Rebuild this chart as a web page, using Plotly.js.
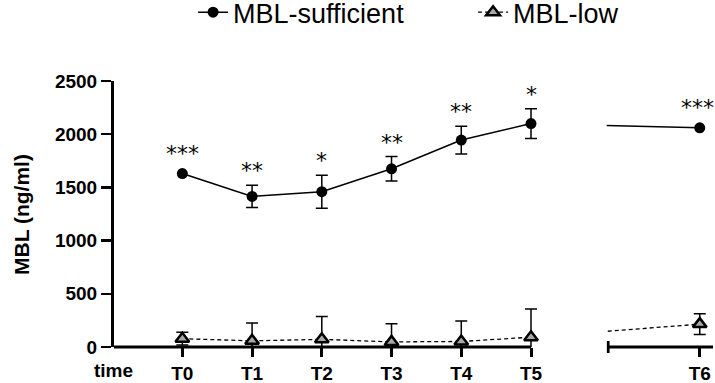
<!DOCTYPE html>
<html><head><meta charset="utf-8">
<script src="https://cdn.plot.ly/plotly-3.0.1.min.js"></script>
<style>html,body{margin:0;padding:0;background:#fff;} #chart{width:715px;height:383px;}</style>
</head><body><div id="chart"></div>
<script>
// ---- data ----
const timePoints = ['T0','T1','T2','T3','T4','T5','T6'];
const mblSufficient = [1630, 1415, 1460, 1675, 1945, 2100, 2060];
const mblSufficientErr = [null, 105, 155, 115, 130, 140, null];
const mblLow = [78, 58, 72, 48, 52, 92, 215];
const mblLowErr = [60, 168, 215, 170, 192, 265, 97];
const significance = ['***','**','*','**','**','*','***'];
const yTicks = [0, 500, 1000, 1500, 2000, 2500];

// ---- layout helpers: T0..T5 evenly spaced, T6 after an axis break ----
const BREAK_GAP = 2.42;
const xPos = timePoints.map((t, i) => i <= 5 ? i : 5 + BREAK_GAP * (i - 5));
const nanify = a => a.map(v => v == null ? NaN : v);
const X_MIN = -0.98, SPAN = 8.59;
const dom1 = [0, 0.72], dom2 = [0.8225, 1];
const range1 = dom1.map(d => X_MIN + d * SPAN);
const range2 = dom2.map(d => X_MIN + d * SPAN);

const FONT = 'Liberation Sans, Arial, sans-serif';
const errStyle = {type: 'data', visible: true, color: '#000', thickness: 1.5, width: 6};

function suffTrace(idx, axis, legend) {
  return {
    x: idx.map(i => xPos[i]), y: idx.map(i => mblSufficient[i]),
    xaxis: axis, yaxis: 'y', type: 'scatter', mode: 'lines+markers',
    name: 'MBL-sufficient', showlegend: legend, legendgroup: 's',
    line: {color: '#000', width: 1.5},
    marker: {symbol: 'circle', size: 11, color: '#000'},
    error_y: Object.assign({array: nanify(idx.map(i => mblSufficientErr[i]))}, errStyle),
    hoverinfo: 'skip'
  };
}
function lowTrace(idx, axis, legend) {
  return {
    x: idx.map(i => xPos[i]), y: idx.map(i => mblLow[i]),
    xaxis: axis, yaxis: 'y', type: 'scatter', mode: 'lines+markers',
    name: 'MBL-low', showlegend: legend, legendgroup: 'l',
    line: {color: '#000', width: 1.3, dash: '4px,3px'},
    marker: {symbol: 'triangle-up', size: 12, color: '#a8a8a8', line: {color: '#000', width: 2.5}},
    error_y: Object.assign({array: nanify(idx.map(i => mblLowErr[i]))}, errStyle),
    hoverinfo: 'skip'
  };
}
const first = [0,1,2,3,4,5], second = [5,6];
const traces = [
  suffTrace(first, 'x', true),
  lowTrace(first, 'x', true),
  suffTrace(second, 'x2', false),
  lowTrace(second, 'x2', false)
];

const tickFont = {family: FONT, size: 19, weight: 'bold', color: '#000'};
const xCommon = {
  showline: false, zeroline: false, showgrid: false,
  ticks: 'outside', ticklen: 9, tickwidth: 3, tickcolor: '#000',
  tickfont: tickFont, anchor: 'y', fixedrange: true
};

const annotations = timePoints.map((t, i) => {
  const e = mblSufficientErr[i];
  return {
    xref: i <= 5 ? 'x' : 'x2', yref: 'y',
    x: xPos[i], y: mblSufficient[i] + (e || 0),
    yanchor: 'bottom', xanchor: i === 6 ? 'right' : 'center',
    xshift: i === 6 ? 16 : 0, yshift: e ? 0 : 6,
    text: significance[i], showarrow: false,
    font: {family: 'DejaVu Sans', size: 22, color: '#000'}
  };
});
annotations.push({
  xref: 'paper', yref: 'paper', x: 0, y: 0, xanchor: 'center', yanchor: 'top',
  xshift: -1, yshift: -11, text: 'time', showarrow: false, font: tickFont
});
annotations.push({
  xref: 'paper', yref: 'paper', x: -0.1553, y: 0.5, xanchor: 'center', yanchor: 'middle',
  textangle: -90, text: 'MBL (ng/ml)', showarrow: false,
  font: {family: FONT, size: 21, weight: 'bold', color: '#000'}
});

const shapes = [
  {type: 'line', xref: 'x', yref: 'paper', x0: X_MIN, x1: xPos[5], y0: 0, y1: 0,
   line: {color: '#000', width: 3}},
  {type: 'line', xref: 'x2', yref: 'paper', x0: range2[0] + 0.02, x1: range2[1], y0: 0, y1: 0,
   line: {color: '#000', width: 3}},
  {type: 'line', xref: 'x2', yref: 'paper', ysizemode: 'pixel', yanchor: 0,
   x0: range2[0] + 0.02, x1: range2[0] + 0.02, y0: -6, y1: 6,
   line: {color: '#000', width: 3}}
];

const layout = {
  width: 715, height: 383,
  margin: {l: 114, r: 2, t: 81, b: 36, pad: 0, autoexpand: false},
  paper_bgcolor: '#fff', plot_bgcolor: '#fff',
  font: {family: FONT, color: '#000'},
  showlegend: true,
  legend: {
    orientation: 'h', xref: 'paper', yref: 'paper',
    x: 0.132, y: 1.349, xanchor: 'left', yanchor: 'top',
    font: {family: FONT, size: 27, color: '#000'},
    entrywidth: 235,
    bgcolor: 'rgba(0,0,0,0)', traceorder: 'normal'
  },
  xaxis: Object.assign({domain: dom1, range: range1,
    tickmode: 'array', tickvals: first.map(i => xPos[i]), ticktext: first.map(i => timePoints[i])}, xCommon),
  xaxis2: Object.assign({domain: dom2, range: range2,
    tickmode: 'array', tickvals: [xPos[6]], ticktext: [timePoints[6]]}, xCommon),
  yaxis: {
    range: [0, 2500], tickmode: 'array', tickvals: yTicks,
    showline: true, linewidth: 3, linecolor: '#000',
    ticks: 'outside', ticklen: 10, tickwidth: 2.5, tickcolor: '#000',
    tickfont: tickFont, showgrid: false, zeroline: false, anchor: 'x', fixedrange: true
  },
  shapes: shapes,
  annotations: annotations
};

Plotly.newPlot('chart', traces, layout, {displayModeBar: false, staticPlot: true});
</script>
</body></html>
